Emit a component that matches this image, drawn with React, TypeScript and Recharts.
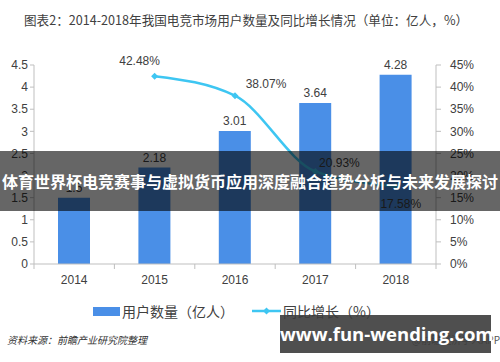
import { ComposedChart, Bar, Line, XAxis, YAxis, LabelList, Legend } from "recharts";

const years = ["2014", "2015", "2016", "2017", "2018"];
const users = [1.5, 2.18, 3.01, 3.64, 4.28];
const growth: (number | null)[] = [null, 42.48, 38.07, 20.93, 17.58];
const leftTicks = [0, 0.5, 1, 1.5, 2, 2.5, 3, 3.5, 4, 4.5];
const rightTicks = [0, 5, 10, 15, 20, 25, 30, 35, 40, 45];

const data = years.map((year, i) => ({ year, users: users[i], growth: growth[i] }));

const BAR = "#4a8fe7";
const LINE = "#3ec6f2";
const AXIS = "#bfbfbf";
const TEXT = "#404040";
const FONT = "'Liberation Sans', Arial, sans-serif";
const CJK = "'Noto Sans CJK SC', sans-serif";

// where each growth label sits relative to its point
const labelShift: Record<number, [number, number]> = {
  1: [-15, -14],
  2: [31, -11],
  3: [24, -8],
  4: [5, 19],
};

const Diamond = (props: any) => {
  const { cx, cy, value } = props;
  if (value == null || cx == null) return null;
  const r = 3.5;
  return (
    <polygon
      points={`${cx},${cy - r} ${cx + r},${cy} ${cx},${cy + r} ${cx - r},${cy}`}
      fill={LINE}
    />
  );
};

const GrowthLabel = (props: any) => {
  const { x, y, value, index } = props;
  if (value == null) return null;
  const [dx, dy] = labelShift[index] || [0, -10];
  return (
    <text x={x + dx} y={y + dy} textAnchor="middle" dominantBaseline="middle" fontSize={12} fill={TEXT} fontFamily={FONT}>
      {value.toFixed(2)}%
    </text>
  );
};

const YearTick = (props: any) => {
  const { x, y, payload, index } = props;
  const half = payload.offset || 40.3;
  return (
    <g>
      <line x1={x - half} x2={x - half} y1={264} y2={269} stroke={AXIS} />
      {index === years.length - 1 && <line x1={x + half} x2={x + half} y1={264} y2={269} stroke={AXIS} />}
      <text x={x} y={y + 12} textAnchor="middle" fontSize={12} fill={TEXT} fontFamily={FONT}>
        {payload.value}
      </text>
    </g>
  );
};

const LegendBox = () => (
  <div style={{ position: "relative", width: 500, height: 20, fontFamily: CJK, fontSize: 14, color: TEXT }}>
    <div style={{ position: "absolute", left: 93, top: 6, width: 27, height: 9, background: BAR }} />
    <div style={{ position: "absolute", left: 122, top: 0, lineHeight: "20px" }}>用户数量（亿人）</div>
    <svg style={{ position: "absolute", left: 252, top: 4 }} width={30} height={12}>
      <line x1={0} x2={29} y1={6} y2={6} stroke={LINE} strokeWidth={2.5} />
      <polygon points="14.5,2.5 18,6 14.5,9.5 11,6" fill={LINE} />
    </svg>
    <div style={{ position: "absolute", left: 283, top: 0, lineHeight: "20px" }}>同比增长（%）</div>
  </div>
);

export default function App() {
  return (
    <div style={{ position: "absolute", left: 0, top: 0, width: 500, height: 362, background: "#fff", overflow: "hidden" }}>
      <div style={{ position: "absolute", left: 24, top: 10, fontFamily: CJK, fontSize: 12.6, color: TEXT, whiteSpace: "nowrap" }}>
        图表2：2014-2018年我国电竞市场用户数量及同比增长情况（单位：亿人，%）
      </div>
      <ComposedChart width={500} height={362} data={data} margin={{ top: 65, right: 0, left: 0, bottom: 68 }}>
        <XAxis dataKey="year" height={30} axisLine={{ stroke: AXIS }} tickLine={false} tick={<YearTick />} interval={0} />
        <YAxis
          yAxisId="left"
          width={34}
          domain={[0, 4.5]}
          ticks={leftTicks}
          interval={0}
          axisLine={{ stroke: AXIS }}
          tickLine={{ stroke: AXIS }}
          tickSize={4}
          tick={{ fontSize: 12, fill: TEXT, fontFamily: FONT }}
        />
        <YAxis
          yAxisId="right"
          orientation="right"
          width={64}
          domain={[0, 45]}
          ticks={rightTicks}
          interval={0}
          tickFormatter={(v: number) => `${v}%`}
          axisLine={{ stroke: AXIS }}
          tickLine={{ stroke: AXIS }}
          tickSize={5}
          tickMargin={9}
          tick={{ fontSize: 12, fill: TEXT, fontFamily: FONT, textAnchor: "start" }}
        />
        <Bar yAxisId="left" dataKey="users" fill={BAR} barSize={32} isAnimationActive={false}>
          <LabelList dataKey="users" position="top" fontSize={12} fill={TEXT} fontFamily={FONT} offset={6} />
        </Bar>
        <Line
          yAxisId="right"
          dataKey="growth"
          type="monotone"
          stroke={LINE}
          strokeWidth={2.5}
          dot={<Diamond />}
          activeDot={false}
          label={<GrowthLabel />}
          isAnimationActive={false}
        />
        <Legend
          layout="horizontal"
          verticalAlign="middle"
          align="center"
          content={<LegendBox />}
          wrapperStyle={{ position: "absolute", top: 301, left: 0, width: 500 }}
        />
      </ComposedChart>
      <div style={{ position: "absolute", left: 7, top: 332, fontFamily: CJK, fontSize: 10, fontStyle: "italic", color: "#333" }}>
        资料来源：前瞻产业研究院整理
      </div>
      <div style={{ position: "absolute", right: 0, top: 332, fontFamily: CJK, fontSize: 10, color: "#555" }}>
        @前瞻经济学人APP
      </div>
      <div
        style={{
          position: "absolute",
          left: 0,
          top: 151,
          width: 500,
          height: 60,
          background: "rgba(0,0,0,0.6)",
          color: "#fff",
          fontFamily: CJK,
          fontWeight: 700,
          fontSize: 16,
          lineHeight: "60px",
          textAlign: "center",
          whiteSpace: "nowrap",
        }}
      >
        体育世界杯电竞赛事与虚拟货币应用深度融合趋势分析与未来发展探讨
      </div>
      <div
        style={{
          position: "absolute",
          left: 280,
          top: 315,
          width: 211,
          height: 38,
          background: "rgba(60,60,60,0.9)",
          color: "#fff",
          fontFamily: "'Open Sans', sans-serif",
          fontWeight: 700,
          fontSize: 18.5,
          lineHeight: "38px",
          textAlign: "center",
          whiteSpace: "nowrap",
        }}
      >
        www.fun-wending.com
      </div>
    </div>
  );
}
